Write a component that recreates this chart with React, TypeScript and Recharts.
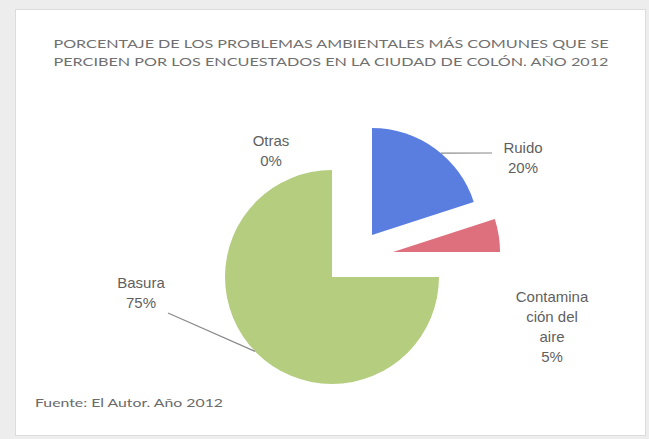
import React from "react";
import { PieChart, Pie, Cell } from "recharts";

const categories = ["Ruido", "Contaminación del aire", "Basura", "Otras"];
const percentages = [20, 5, 75, 0];
const titleLines = [
  "PORCENTAJE DE LOS PROBLEMAS AMBIENTALES MÁS COMUNES QUE SE",
  "PERCIBEN POR LOS ENCUESTADOS EN LA CIUDAD DE COLÓN. AÑO 2012",
];
const sourceNote = "Fuente: El Autor. Año 2012";

const data = categories.map((name, i) => ({ name, value: percentages[i] }));

const COLORS = ["#5a7ee0", "#de6f7c", "#b4cd7f", "#8064a2"];
const TEXT = "#5f5f5f";
const W = 649;
const H = 439;
const CX = 332;
const CY = 277;
const R = 107;

// exploded slices: offset of each slice centre from the pie centre
const EXPLODE: Record<number, { dx: number; dy: number }> = {
  0: { dx: 40, dy: -42 },
  1: { dx: 61, dy: -25 },
};

// label placement relative to the slice centre
const LABELS: Record<
  number,
  { lines: string[]; dx: number; dy: number; lineAngle?: number; lineTo?: [number, number] }
> = {
  0: { lines: ["Ruido"], dx: 151, dy: -87, lineAngle: 50, lineTo: [120, -82] },
  1: { lines: ["Contamina", "ción del", "aire"], dx: 159, dy: 45 },
  2: { lines: ["Basura"], dx: -191, dy: 6, lineAngle: 224, lineTo: [-164, 36] },
  3: { lines: ["Otras"], dx: -61, dy: -136 },
};

const RAD = Math.PI / 180;

function makeLabel(show: number[]) {
  return (props: any) => {
    const { cx, cy, index, value } = props;
    if (!show.includes(index)) return null;
    const cfg = LABELS[index];
    const lines = [...cfg.lines, `${value}%`];
    let leader = null;
    if (cfg.lineAngle !== undefined && cfg.lineTo) {
      const x1 = cx + R * Math.cos(cfg.lineAngle * RAD);
      const y1 = cy - R * Math.sin(cfg.lineAngle * RAD);
      leader = (
        <line
          x1={x1}
          y1={y1}
          x2={cx + cfg.lineTo[0]}
          y2={cy + cfg.lineTo[1]}
          stroke="#8a8a8a"
          strokeWidth={1.2}
        />
      );
    }
    return (
      <g key={`lbl-${index}`}>
        {leader}
        <text
          x={cx + cfg.dx}
          y={cy + cfg.dy}
          textAnchor="middle"
          fill={TEXT}
          fontFamily="Liberation Sans, Arial, sans-serif"
          fontSize={15}
        >
          {lines.map((l, i) => (
            <tspan key={i} x={cx + cfg.dx} dy={i === 0 ? 5 : 20}>
              {l}
            </tspan>
          ))}
        </text>
      </g>
    );
  };
}

function slicePie(visible: number[], labelIdx: number[], key: string) {
  const off = EXPLODE[visible[0]] || { dx: 0, dy: 0 };
  return (
    <Pie
      key={key}
      data={data}
      dataKey="value"
      nameKey="name"
      cx={CX + off.dx}
      cy={CY + off.dy}
      outerRadius={R}
      startAngle={90}
      endAngle={-270}
      stroke="none"
      isAnimationActive={false}
      label={makeLabel(labelIdx)}
      labelLine={false}
    >
      {data.map((_, i) => (
        <Cell key={i} fill={visible.includes(i) ? COLORS[i] : "transparent"} />
      ))}
    </Pie>
  );
}

export default function App() {
  return (
    <div
      style={{
        position: "absolute",
        left: 0,
        top: 0,
        width: W,
        height: H,
        background: "#ededed",
      }}
    >
      <div
        style={{
          position: "absolute",
          left: 15,
          top: 9,
          width: 629,
          height: 425,
          background: "#ffffff",
          border: "1px solid #dcdcdc",
        }}
      />
      <div style={{ position: "absolute", left: 0, top: 0 }}>
        <PieChart width={W} height={H} margin={{ top: 0, right: 0, bottom: 0, left: 0 }}>
          {titleLines.map((t, i) => (
            <text
              key={t}
              x={331}
              y={48 + i * 18}
              textAnchor="middle"
              textLength={555}
              lengthAdjust="spacingAndGlyphs"
              fill="#707070"
              fontFamily="Lato, sans-serif"
              fontSize={11.5}
            >
              {t}
            </text>
          ))}
          {slicePie([2, 3], [2, 3], "basura")}
          {slicePie([0], [0], "ruido")}
          {slicePie([1], [1], "aire")}
          <text
            x={35}
            y={407}
            textLength={188}
            lengthAdjust="spacingAndGlyphs"
            fill="#6a6a6a"
            fontFamily="Lato, sans-serif"
            fontSize={10.5}
          >
            {sourceNote}
          </text>
        </PieChart>
      </div>
    </div>
  );
}
